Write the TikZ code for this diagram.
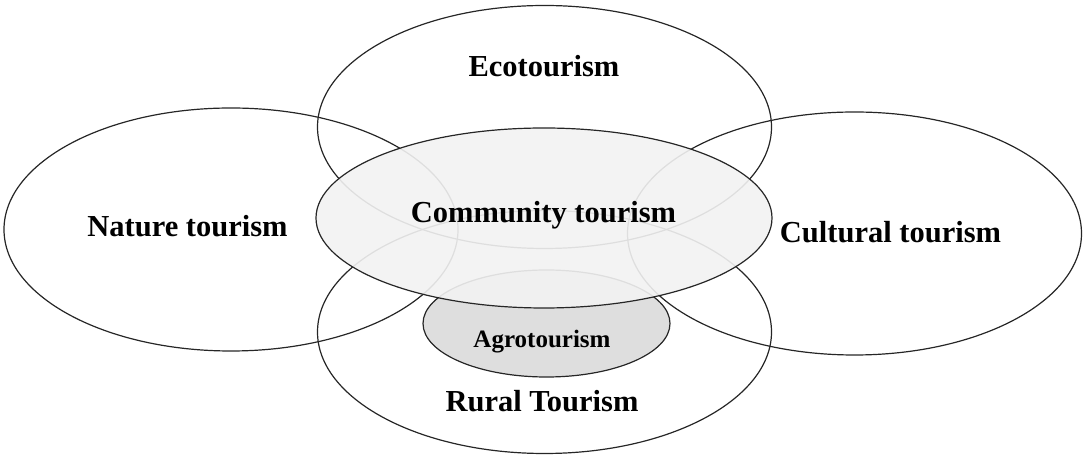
\documentclass[tikz,border=0pt]{standalone}
\usepackage{fontspec}
\setmainfont{Liberation Serif}
\usetikzlibrary{shapes.geometric}
\definecolor{ink}{HTML}{262626}
\definecolor{corefill}{HTML}{F2F2F2}
\definecolor{agrofill}{HTML}{DEDEDE}
\tikzset{
  ring/.style = {ellipse, draw=ink, line width=1.2pt, inner sep=0pt,
                 minimum width=454pt, minimum height=243pt},
  lab/.style  = {font=\fontsize{30.5}{32}\selectfont\bfseries, text=black,
                 inner sep=0pt, anchor=base},
}
\begin{document}
\begin{tikzpicture}[x=1pt, y=1pt]
  \useasboundingbox (0,0) rectangle (1084,457);
  % the four outer fields
  \node[ring] (eco)     at (544.5,330)   {};
  \node[ring] (rural)   at (544.5,125)   {};
  \node[ring] (nature)  at (231,227.5)   {};
  \node[ring] (culture) at (854.5,223.5) {};
  % inner fields
  \node[ring, fill=agrofill, minimum width=247pt, minimum height=107pt] (agro) at (546.5,133.5) {};
  \node[ring, fill=corefill, fill opacity=0.9, minimum width=456pt, minimum height=180pt] (comm) at (544,239) {};
  % labels
  \node[lab] (ecolab)   at (544,380)   {Ecotourism};
  \node[lab] (natlab)   at (187.5,220) {Nature tourism};
  \node[lab] (cultlab)  at (890.5,214) {Cultural tourism};
  \node[lab] (commlab)  at (543.5,234) {Community tourism};
  \node[lab, font=\fontsize{25}{27}\selectfont\bfseries] (agrolab) at (542,109) {Agrotourism};
  \node[lab] (rurallab) at (542,45)    {Rural Tourism};
\end{tikzpicture}
\end{document}
